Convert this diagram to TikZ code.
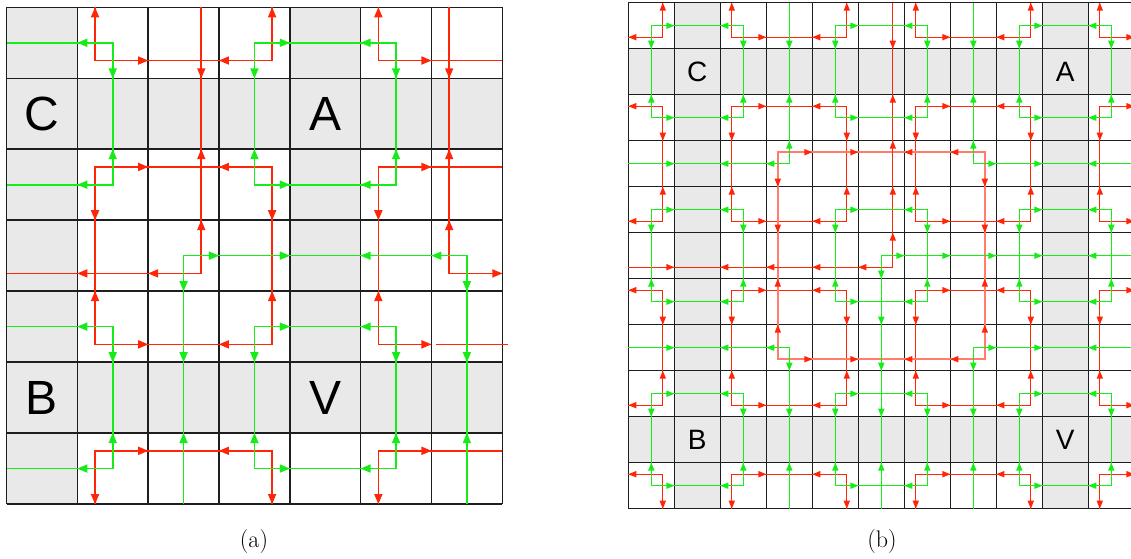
\documentclass[tikz,border=0pt]{standalone}
\usepackage{fontspec}
\newfontfamily\labfont{Liberation Sans}
\definecolor{rc}{RGB}{255,38,8}
\definecolor{rcl}{RGB}{255,125,105}
\definecolor{gc}{RGB}{24,236,24}
\definecolor{gf}{RGB}{233,233,233}
\definecolor{gl}{RGB}{30,30,30}
\def\arL{10pt}
\def\arW{8.5pt}
\newcommand\tipmark[3]{\begin{scope}[shift={(#1)},rotate=#2]\fill[#3] (0pt,0pt)--(-\arL,0.5*\arW)--(-\arL,-0.5*\arW)--cycle;\end{scope}}
\newcommand\Rt[2]{\tipmark{#1}{#2}{rc}}
\newcommand\Gt[2]{\tipmark{#1}{#2}{gc}}
\tikzset{
  gridA/.style={draw=gl,line width=1.5pt},
  gridB/.style={draw=gl,line width=1.2pt},
  ra/.style={draw=rc,line width=1.6pt},
  ga/.style={draw=gc,line width=1.6pt},
  rb/.style={draw=rc,line width=1.35pt},
  rbl/.style={draw=rcl,line width=2pt},
  gb/.style={draw=gc,line width=1.35pt},
  labA/.style={font=\labfont\fontsize{48}{48}\selectfont,inner sep=0pt},
  labB/.style={font=\labfont\fontsize{28}{28}\selectfont,inner sep=0pt},
  capt/.style={font=\fontsize{24}{28}\selectfont,inner sep=0pt}
}
\begin{document}
\begin{tikzpicture}[x=1pt,y=-1pt]
\useasboundingbox (0,0) rectangle (1131,558);
\clip (0,0) rectangle (1131,558);
\fill[white] (0,0) rectangle (1131,558);

% ================= panel (a) =================
\begin{scope}[shift={(6.5pt,-7.3pt)},x=70.83pt,y=-70.96pt]
\fill[gf] (0,0) rectangle (1,7);
\fill[gf] (4,0) rectangle (5,6);
\fill[gf] (0,1) rectangle (7,2);
\fill[gf] (0,5) rectangle (7,6);
\foreach \i in {0,...,7} {\draw[gridA] (\i,0) -- (\i,7); \draw[gridA] (0,\i) -- (7,\i);}
\node[labA] (aC) at (0.5,1.5) {C};
\node[labA] (aA) at (4.5,1.5) {A};
\node[labA] (aB) at (0.5,5.5) {B};
\node[labA] (aV) at (4.5,5.5) {V};
% red
\draw[ra] (1.25,0) -- (1.25,0.75) -- (3.75,0.75) -- (3.75,0);
\draw[ra] (5.25,0) -- (5.25,0.75) -- (7,0.75);
\draw[ra] (2.75,0) -- (2.75,3.75) -- (0,3.75);
\draw[ra] (6.25,0) -- (6.25,3.75) -- (7,3.75);
\draw[ra] (1.25,2.25) rectangle (3.75,4.75);
\draw[ra] (7,2.25) -- (5.25,2.25) -- (5.25,4.75) -- (6,4.75);
\draw[ra] (6.06,4.75) -- (7.08,4.75);
\draw[ra] (1.25,7) -- (1.25,6.25) -- (3.75,6.25) -- (3.75,7);
\draw[ra] (5.25,7) -- (5.25,6.25) -- (7,6.25);
% green
\draw[ga] (0,0.5) -- (1.5,0.5) -- (1.5,2.5) -- (0,2.5);
\draw[ga] (3.5,0.5) rectangle (5.5,2.5);
\draw[ga] (2.5,7) -- (2.5,3.5) -- (6.5,3.5) -- (6.5,7);
\draw[ga] (0,4.5) -- (1.5,4.5) -- (1.5,6.5) -- (0,6.5);
\draw[ga] (3.5,4.5) rectangle (5.5,6.5);
% red tips
\Rt{1.25,0}{90}\Rt{3.75,0}{90}\Rt{5.25,0}{90}\Rt{2,0.75}{0}\Rt{3,0.75}{180}\Rt{6,0.75}{0}
\Rt{2.75,1}{270}\Rt{2.75,2}{90}\Rt{2.75,3}{90}\Rt{2,3.75}{180}\Rt{1,3.75}{180}
\Rt{6.25,1}{270}\Rt{6.25,2}{90}\Rt{6.25,3}{90}\Rt{7,3.75}{0}
\Rt{2,2.25}{0}\Rt{3,2.25}{180}\Rt{2,4.75}{0}\Rt{3,4.75}{180}
\Rt{1.25,3}{270}\Rt{1.25,4}{90}\Rt{3.75,3}{270}\Rt{3.75,4}{90}
\Rt{6,2.25}{0}\Rt{6,4.75}{0}\Rt{5.25,3}{270}\Rt{5.25,4}{90}
\Rt{1.25,7}{270}\Rt{3.75,7}{270}\Rt{5.25,7}{270}\Rt{2,6.25}{0}\Rt{3,6.25}{180}\Rt{6,6.25}{0}
% green tips
\Gt{1,0.5}{180}\Gt{1,2.5}{180}\Gt{1.5,1}{270}\Gt{1.5,2}{90}
\Gt{4,0.5}{0}\Gt{5,0.5}{180}\Gt{4,2.5}{0}\Gt{5,2.5}{180}
\Gt{3.5,1}{270}\Gt{3.5,2}{90}\Gt{5.5,1}{270}\Gt{5.5,2}{90}
\Gt{3,3.5}{0}\Gt{4,3.5}{0}\Gt{5,3.5}{180}\Gt{6,3.5}{180}
\Gt{2.5,4}{270}\Gt{2.5,5}{270}\Gt{2.5,6}{90}\Gt{6.5,4}{270}\Gt{6.5,5}{270}\Gt{6.5,6}{90}
\Gt{1,4.5}{180}\Gt{1,6.5}{180}\Gt{1.5,5}{270}\Gt{1.5,6}{90}
\Gt{4,4.5}{0}\Gt{5,4.5}{180}\Gt{4,6.5}{0}\Gt{5,6.5}{180}
\Gt{3.5,5}{270}\Gt{3.5,6}{90}\Gt{5.5,5}{270}\Gt{5.5,6}{90}
\end{scope}

% ================= panel (b) =================
\def\arL{8pt}
\def\arW{6.5pt}
\begin{scope}[shift={(628.3pt,-2.7pt)},x=46pt,y=-46pt]
\fill[gf] (1,0) rectangle (2,11);
\fill[gf] (9,0) rectangle (10,11);
\fill[gf] (0,1) rectangle (11,2);
\fill[gf] (0,9) rectangle (11,10);
\foreach \i in {0,...,11} {\draw[gridB] (\i,0) -- (\i,11); \draw[gridB] (0,\i) -- (11,\i);}
\node[labB] (bC) at (1.5,1.5) {C};
\node[labB] (bA) at (9.5,1.5) {A};
\node[labB] (bB) at (1.5,9.5) {B};
\node[labB] (bV) at (9.5,9.5) {V};
% red: top and bottom rows
\draw[rb] (0,0.75) -- (0.75,0.75) -- (0.75,0);
\draw[rb] (11,0.75) -- (10.25,0.75) -- (10.25,0);
\draw[rb] (0,10.25) -- (0.75,10.25) -- (0.75,11);
\draw[rb] (11,10.25) -- (10.25,10.25) -- (10.25,11);
\Rt{0,0.75}{180}\Rt{0.75,0}{90}\Rt{11,0.75}{0}\Rt{10.25,0}{90}
\Rt{0,10.25}{180}\Rt{0.75,11}{270}\Rt{11,10.25}{0}\Rt{10.25,11}{270}
\foreach \a in {2.25,6.25} {
  \draw[rb] (\a,0) -- (\a,0.75) -- (\a+2.5,0.75) -- (\a+2.5,0);
  \draw[rb] (\a,11) -- (\a,10.25) -- (\a+2.5,10.25) -- (\a+2.5,11);
  \Rt{\a,0}{90}\Rt{\a+2.5,0}{90}\Rt{\a+0.75,0.75}{0}\Rt{\a+1.75,0.75}{180}
  \Rt{\a,11}{270}\Rt{\a+2.5,11}{270}\Rt{\a+0.75,10.25}{0}\Rt{\a+1.75,10.25}{180}
}
% red: side-open shapes and rectangles
\foreach \b in {2.25,6.25} {
  \draw[rb] (0,\b) -- (0.75,\b) -- (0.75,\b+2.5) -- (0,\b+2.5);
  \draw[rb] (11.1,\b) -- (10.25,\b) -- (10.25,\b+2.5) -- (11.1,\b+2.5);
  \Rt{0,\b}{180}\Rt{0,\b+2.5}{180}\Rt{0.75,\b+0.75}{270}\Rt{0.75,\b+1.75}{90}
  \Rt{11,\b}{0}\Rt{11,\b+2.5}{0}\Rt{10.25,\b+0.75}{270}\Rt{10.25,\b+1.75}{90}
  \foreach \a in {2.25,6.25} {
    \draw[rb] (\a,\b) rectangle (\a+2.5,\b+2.5);
    \Rt{\a+0.75,\b}{0}\Rt{\a+1.75,\b}{180}\Rt{\a+0.75,\b+2.5}{0}\Rt{\a+1.75,\b+2.5}{180}
    \Rt{\a,\b+0.75}{270}\Rt{\a,\b+1.75}{90}\Rt{\a+2.5,\b+0.75}{270}\Rt{\a+2.5,\b+1.75}{90}
  }
}
% red: big loop
\draw[rbl] (3.25,3.25) rectangle (7.75,7.75);
\foreach \c in {3.25,7.75} {
  \Rt{4,\c}{0}\Rt{5,\c}{0}\Rt{6,\c}{180}\Rt{7,\c}{180}
  \Rt{\c,4}{270}\Rt{\c,5}{270}\Rt{\c,6}{90}\Rt{\c,7}{90}
}
% red: L line
\draw[rb] (5.75,0) -- (5.75,5.75) -- (0,5.75);
\Rt{5.75,1}{270}\Rt{5.75,2}{90}\Rt{5.75,3}{90}\Rt{5.75,4}{90}\Rt{5.75,5}{90}
\Rt{5,5.75}{180}\Rt{4,5.75}{180}\Rt{3,5.75}{180}\Rt{2,5.75}{180}\Rt{1,5.75}{0}
% green rectangles
\foreach \a in {0.5,4.5,8.5} {
  \foreach \b in {0.5,4.5,8.5} {
    \draw[gb] (\a,\b) rectangle (\a+2,\b+2);
    \Gt{\a+0.5,\b}{0}\Gt{\a+1.5,\b}{180}\Gt{\a+0.5,\b+2}{0}\Gt{\a+1.5,\b+2}{180}
    \Gt{\a,\b+0.5}{270}\Gt{\a,\b+1.5}{90}\Gt{\a+2,\b+0.5}{270}\Gt{\a+2,\b+1.5}{90}
  }
}
% green lines
\draw[gb] (3.5,0) -- (3.5,3.5) -- (0,3.5);
\Gt{3.5,1}{270}\Gt{3.5,2}{90}\Gt{3.5,3}{90}\Gt{3,3.5}{180}\Gt{2,3.5}{180}\Gt{1,3.5}{0}
\draw[gb] (7.5,0) -- (7.5,3.5) -- (11.1,3.5);
\Gt{7.5,1}{270}\Gt{7.5,2}{90}\Gt{7.5,3}{90}\Gt{8,3.5}{0}\Gt{9,3.5}{0}\Gt{10,3.5}{180}
\draw[gb] (0,7.5) -- (3.5,7.5) -- (3.5,11);
\Gt{1,7.5}{0}\Gt{2,7.5}{180}\Gt{3,7.5}{180}\Gt{3.5,8}{270}\Gt{3.5,9}{270}\Gt{3.5,10}{90}
\draw[gb] (11.1,7.5) -- (7.5,7.5) -- (7.5,11);
\Gt{8,7.5}{0}\Gt{9,7.5}{0}\Gt{10,7.5}{180}\Gt{7.5,8}{270}\Gt{7.5,9}{270}\Gt{7.5,10}{90}
\draw[gb] (11.1,5.5) -- (5.5,5.5) -- (5.5,11);
\Gt{6,5.5}{0}\Gt{7,5.5}{0}\Gt{8,5.5}{0}\Gt{9,5.5}{0}\Gt{10,5.5}{180}
\Gt{5.5,6}{270}\Gt{5.5,7}{270}\Gt{5.5,8}{270}\Gt{5.5,9}{270}\Gt{5.5,10}{90}
\end{scope}

\node[capt] (capa) at (254,541) {(a)};
\node[capt] (capb) at (882,541) {(b)};
\end{tikzpicture}
\end{document}
